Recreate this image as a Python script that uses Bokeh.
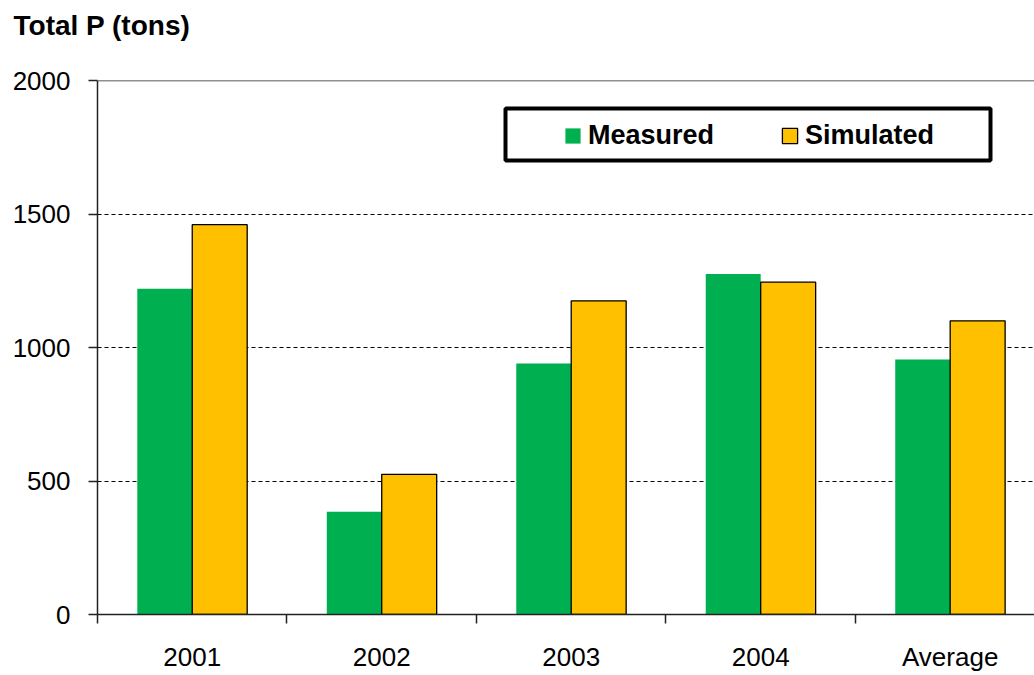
import numpy as np
from bokeh.plotting import figure
from bokeh.models import (ColumnDataSource, Range1d, FixedTicker, Span, Legend,
                          LegendItem, BoxAnnotation, LinearAxis)
from bokeh.embed import file_html
from bokeh.resources import INLINE

categories = ["2001", "2002", "2003", "2004", "Average"]
measured = [1220, 385, 940, 1275, 955]
simulated = [1460, 525, 1175, 1245, 1100]
y_ticks = [0, 500, 1000, 1500, 2000]
grid_lines = [500, 1000, 1500]
title_text = "Total P (tons)"

GREEN = "#00B050"
YELLOW = "#FFC000"
FONT = "Liberation Sans"

n = len(categories)
centers = np.arange(n) + 0.5
bar_w = 0.29
src = ColumnDataSource(dict(
    xm=centers - bar_w / 2, xs=centers + bar_w / 2,
    m=measured, s=simulated))

p = figure(width=1034, height=675, output_backend="svg", toolbar_location=None,
           x_range=Range1d(0, 4.945), y_range=Range1d(0, 2000),
           min_border_left=97, min_border_right=0, min_border_top=80,
           min_border_bottom=61, title=title_text)
p.outline_line_color = None
p.background_fill_color = "white"

p.title.text_font = FONT
p.title.text_font_style = "bold"
p.title.text_font_size = "28px"
p.title.text_color = "black"
p.title.align = "left"
p.title.offset = -84
p.title.standoff = 10

# blank spacer axis between the title and the plotting area
sp_tick = float(centers[-1])
spacer = LinearAxis(ticker=FixedTicker(ticks=[sp_tick]), major_tick_out=35, major_tick_in=0,
                    minor_tick_out=0, minor_tick_in=0, axis_line_color=None,
                    major_tick_line_color="white", major_tick_line_alpha=0,
                    major_label_standoff=0, major_label_text_font_size="1px",
                    major_label_overrides={sp_tick: ""})
p.add_layout(spacer, "above")

rm = p.vbar(x="xm", top="m", width=bar_w, source=src, fill_color=GREEN, line_color=None)
rs = p.vbar(x="xs", top="s", width=bar_w, source=src, fill_color=YELLOW,
            line_color="black", line_width=1.3)

# axes
yax = p.yaxis[0]
yax.ticker = FixedTicker(ticks=y_ticks)
yax.major_tick_out = 9
yax.major_tick_in = 0
yax.minor_tick_out = 0
yax.major_label_standoff = 18
yax.major_label_text_font = FONT
yax.major_label_text_font_size = "26px"
yax.major_label_text_color = "black"
yax.axis_line_color = "#222222"
yax.axis_line_width = 1.5
yax.major_tick_line_color = "#222222"
yax.major_tick_line_width = 1.5

xax = p.below[0]
xax.ticker = FixedTicker(ticks=list(centers), minor_ticks=list(range(n + 1)))
xax.major_label_overrides = {float(c): lab for c, lab in zip(centers, categories)}
xax.major_tick_out = 0
xax.major_tick_in = 0
xax.minor_tick_out = 9
xax.minor_tick_in = 0
xax.minor_tick_line_color = "#222222"
xax.minor_tick_line_width = 1.5
xax.major_label_standoff = 18
xax.major_label_text_font = FONT
xax.major_label_text_font_size = "26px"
xax.major_label_text_color = "black"
xax.axis_line_color = "#222222"
xax.axis_line_width = 1.5

p.xgrid.visible = False
p.ygrid.ticker = FixedTicker(ticks=grid_lines)
p.ygrid.grid_line_color = "black"
p.ygrid.grid_line_dash = "4 3"
p.ygrid.grid_line_width = 1

p.add_layout(Span(location=y_ticks[-1], dimension="width", line_color="#222222", line_width=1.5))

# legend frame
p.add_layout(BoxAnnotation(left=408, right=893, top=506, bottom=454,
                           left_units="screen", right_units="screen",
                           top_units="screen", bottom_units="screen",
                           fill_color="white", fill_alpha=1,
                           line_color="black", line_alpha=1, line_width=4))

legend = Legend(items=[LegendItem(label="Measured", renderers=[rm]),
                       LegendItem(label="Simulated", renderers=[rs])],
                orientation="horizontal", location=(466, 463),
                padding=0, spacing=66, label_standoff=6,
                glyph_width=19, glyph_height=19,
                border_line_color=None, background_fill_alpha=0,
                label_text_font=FONT, label_text_font_style="bold",
                label_text_font_size="27px", label_text_color="black")
p.add_layout(legend)

open("out.html", "w").write(file_html(p, INLINE))
